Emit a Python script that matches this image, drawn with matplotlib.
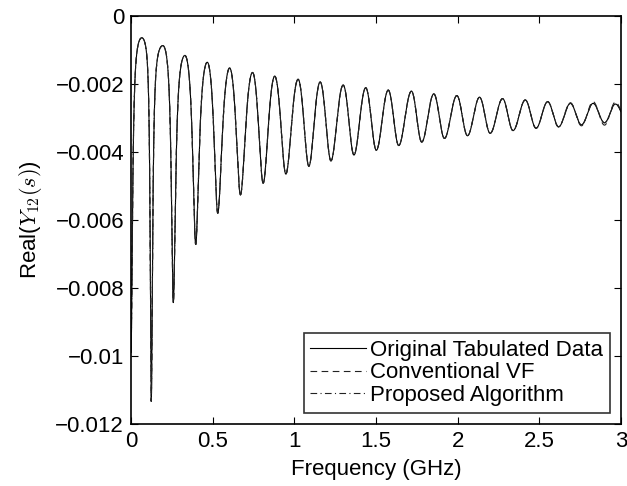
import numpy as np
import matplotlib
matplotlib.use("Agg")
import matplotlib.pyplot as plt
from matplotlib.ticker import FixedLocator, FixedFormatter

plt.rcParams['font.family'] = ['Liberation Sans', 'DejaVu Sans']
plt.rcParams['mathtext.fontset'] = 'cm'

# ---- data (GHz, value) ----
start_freq = 0.0
start_val = -0.0099

peak_freq = [0.066, 0.195, 0.330, 0.467, 0.604, 0.744, 0.880, 1.023, 1.158, 1.299,
             1.437, 1.575, 1.717, 1.854, 1.995, 2.134, 2.275, 2.414, 2.551, 2.690,
             2.829, 2.966]
peak_val = [-0.00064, -0.00087, -0.00116, -0.00136, -0.00153, -0.00166, -0.00177,
            -0.00186, -0.00194, -0.00203, -0.00211, -0.00218, -0.00221, -0.00229,
            -0.00234, -0.00239, -0.00243, -0.00247, -0.00252, -0.00257, -0.00257,
            -0.00259]
trough_freq = [0.124, 0.259, 0.396, 0.531, 0.670, 0.809, 0.948, 1.089, 1.224, 1.365,
               1.502, 1.639, 1.780, 1.919, 2.060, 2.199, 2.339, 2.480, 2.618, 2.758,
               2.899, 3.038]
trough_val = [-0.01133, -0.00843, -0.00672, -0.00580, -0.00526, -0.00492, -0.00465,
              -0.00442, -0.00426, -0.00409, -0.00395, -0.00381, -0.00371, -0.00360,
              -0.00352, -0.00345, -0.00337, -0.00330, -0.00326, -0.00320, -0.00314,
              -0.00308]

# Conventional VF: deviates slightly at the top of the band
vf_peak_val = peak_val[:19] + [-0.00255, -0.00252, -0.00253]
vf_trough_val = trough_val[:19] + [-0.00323, -0.00321, -0.00316]

# Proposed algorithm: follows the original data
pa_peak_val = list(peak_val)
pa_trough_val = list(trough_val)

x_ticks = [0, 0.5, 1, 1.5, 2, 2.5, 3]
x_ticklabels = ['0', '0.5', '1', '1.5', '2', '2.5', '3']
y_ticks = [0, -0.002, -0.004, -0.006, -0.008, -0.01, -0.012]
y_ticklabels = ['0', '\u22120.002', '\u22120.004', '\u22120.006', '\u22120.008',
                '\u22120.01', '\u22120.012']
labels = ['Original Tabulated Data', 'Conventional VF', 'Proposed Algorithm']


def build_curve(pf, pv, tf, tv, f0, v0, n=300):
    # extrema in order: start (trough-like), P1, T1, P2, T2, ...
    ext = [(f0, v0, 't')]
    for a, b, c, d in zip(pf, pv, tf, tv):
        ext.append((a, b, 'p'))
        ext.append((c, d, 't'))
    fs, vs = [], []
    for (fa, va, ka), (fb, vb, kb) in zip(ext[:-1], ext[1:]):
        if ka == 'p':
            fp, P, ft, T = fa, va, fb, vb
        else:
            fp, P, ft, T = fb, vb, fa, va
        dep = P - T
        a = 1.0 + 1.1e-7 / dep ** 3
        f = np.linspace(fa, fb, n, endpoint=False)
        t = np.abs(f - fp) / abs(ft - fp)
        c = np.cos(np.pi * t)
        s = (1 - c) * (a - 1) / (2 * (a + c))
        fs.append(f)
        vs.append(P - dep * s)
    return np.concatenate(fs), np.concatenate(vs)


FS = 16
fig = plt.figure(figsize=(6.27, 4.86), dpi=100)
ax = fig.add_axes([131 / 627, 1 - 424 / 486, 490 / 627, 408 / 486])

f1, v1 = build_curve(peak_freq, peak_val, trough_freq, trough_val, start_freq, start_val)
f2, v2 = build_curve(peak_freq, vf_peak_val, trough_freq, vf_trough_val, start_freq, start_val)
f3, v3 = build_curve(peak_freq, pa_peak_val, trough_freq, pa_trough_val, start_freq, start_val)

ax.plot(f1, v1, color='black', lw=0.8, ls='-', label=labels[0])
ax.plot(f2, v2, color='#222222', lw=0.8, ls=(0, (6, 4)), label=labels[1])
ax.plot(f3, v3, color='#222222', lw=0.8, ls=(0, (6, 3, 1, 3)), label=labels[2])

ax.set_xlim(0, 3)
ax.set_ylim(-0.012, 0)
ax.xaxis.set_major_locator(FixedLocator(x_ticks))
ax.xaxis.set_major_formatter(FixedFormatter(x_ticklabels))
ax.yaxis.set_major_locator(FixedLocator(y_ticks))
ax.yaxis.set_major_formatter(FixedFormatter(y_ticklabels))
ax.tick_params(direction='in', length=5, width=0.8, labelsize=FS,
               top=True, right=True, pad=5)
for sp in ax.spines.values():
    sp.set_linewidth(1.2)

ax.set_xlabel('Frequency (GHz)', fontsize=FS, labelpad=5)
ax.set_ylabel(r'Real($Y_{12}(s)$)', fontsize=FS, labelpad=8)

leg = ax.legend(loc='lower right', fontsize=FS, frameon=True, fancybox=False,
                edgecolor='black', handlelength=2.5, handletextpad=0.2,
                labelspacing=0.08, borderaxespad=0.5, borderpad=0.3)
leg.get_frame().set_linewidth(1.2)

fig.savefig('out.png', dpi=100)
